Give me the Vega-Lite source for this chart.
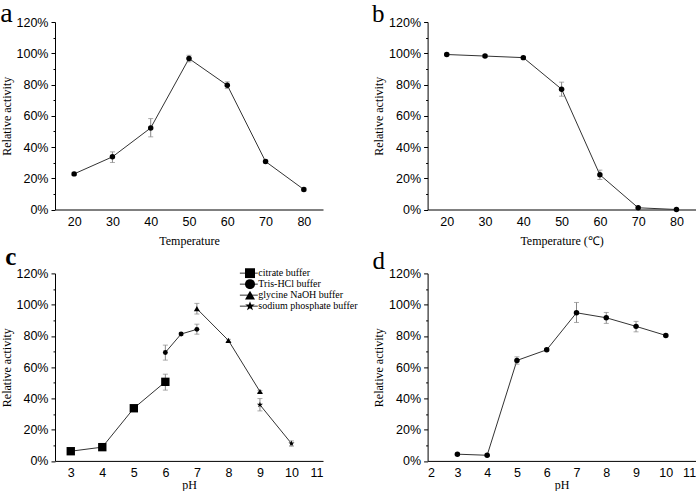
{
  "$schema": "https://vega.github.io/schema/vega-lite/v6.json",
  "padding": 0,
  "background": "white",
  "config": {
    "view": {"stroke": null},
    "axis": {"domainColor": "black", "tickColor": "black", "labelColor": "black", "titleColor": "black", "labelFont": "Liberation Sans", "labelFontSize": 12.5, "titleFont": "Liberation Serif", "titleFontSize": 12, "titleFontWeight": "normal", "grid": false, "domainWidth": 1, "tickWidth": 1, "labelOverlap": false},
    "title": {"font": "Liberation Serif", "fontWeight": "normal", "color": "black", "anchor": "start", "frame": "group", "baseline": "alphabetic", "offset": 0}
  },
  "datasets": {
    "a": [
      {"t": 20, "v": 22.8, "lo": 21.8, "hi": 23.8},
      {"t": 30, "v": 33.7, "lo": 30.1, "hi": 36.9},
      {"t": 40, "v": 52.2, "lo": 46.5, "hi": 58.2},
      {"t": 50, "v": 96.6, "lo": 94.5, "hi": 98.7},
      {"t": 60, "v": 79.5, "lo": 77.4, "hi": 81.7},
      {"t": 70, "v": 30.7, "lo": 29.7, "hi": 31.7},
      {"t": 80, "v": 12.8, "lo": 11.8, "hi": 13.8}
    ],
    "b": [
      {"t": 20, "v": 99.2, "lo": 98.4, "hi": 100},
      {"t": 30, "v": 98.2, "lo": 97.4, "hi": 99},
      {"t": 40, "v": 97.2, "lo": 96.4, "hi": 98},
      {"t": 50, "v": 77, "lo": 72.5, "hi": 81.5},
      {"t": 60, "v": 22.2, "lo": 19.2, "hi": 25.2},
      {"t": 70, "v": 1.1, "lo": 0.5, "hi": 1.7},
      {"t": 80, "v": 0, "lo": 0, "hi": 0.5}
    ],
    "c": [
      {"ph": 3, "v": 6.2, "lo": 5.5, "hi": 6.9, "buf": "citrate buffer"},
      {"ph": 4, "v": 8.8, "lo": 8, "hi": 9.6, "buf": "citrate buffer"},
      {"ph": 5, "v": 33.7, "lo": 33, "hi": 34.4, "buf": "citrate buffer"},
      {"ph": 6, "v": 50.6, "lo": 45.3, "hi": 55.5, "buf": "citrate buffer"},
      {"ph": 6, "v": 69.4, "lo": 64.5, "hi": 74.1, "buf": "Tris-HCl buffer"},
      {"ph": 6.5, "v": 81.2, "lo": 80.5, "hi": 81.9, "buf": "Tris-HCl buffer"},
      {"ph": 7, "v": 84.2, "lo": 81.1, "hi": 87.5, "buf": "Tris-HCl buffer"},
      {"ph": 7, "v": 97.4, "lo": 94, "hi": 100.8, "buf": "glycine NaOH buffer"},
      {"ph": 8, "v": 77.1, "lo": 76.4, "hi": 77.8, "buf": "glycine NaOH buffer"},
      {"ph": 9, "v": 44.4, "lo": 43.7, "hi": 45.1, "buf": "glycine NaOH buffer"},
      {"ph": 9, "v": 35.9, "lo": 32, "hi": 39.9, "buf": "sodium phosphate buffer"},
      {"ph": 10, "v": 11.1, "lo": 9.4, "hi": 12.8, "buf": "sodium phosphate buffer"}
    ],
    "d": [
      {"ph": 3, "v": 4.3, "lo": 3.7, "hi": 4.9},
      {"ph": 4, "v": 3.6, "lo": 3, "hi": 4.2},
      {"ph": 5, "v": 64.3, "lo": 61.9, "hi": 66.6},
      {"ph": 6, "v": 71.1, "lo": 70.3, "hi": 71.9},
      {"ph": 7, "v": 94.8, "lo": 88.6, "hi": 101.4},
      {"ph": 8, "v": 91.6, "lo": 88, "hi": 95},
      {"ph": 9, "v": 86.1, "lo": 82.6, "hi": 89.3},
      {"ph": 10, "v": 80.3, "lo": 79.5, "hi": 81.1}
    ]
  },
  "columns": 2,
  "bounds": "flush",
  "spacing": {"row": 63.4, "column": 104.6},
  "concat": [
    {
      "width": 268, "height": 187.5,
      "title": {"text": "a", "fontSize": 28, "dx": -54.7, "dy": 16},
      "data": {"name": "a"},
      "encoding": {"x": {"field": "t", "type": "quantitative", "scale": {"domain": [15, 85], "nice": false, "zero": false}, "axis": {"values": [20, 30, 40, 50, 60, 70, 80], "tickCount": 7, "title": "Temperature", "titlePadding": 7, "ticks": false, "labelPadding": 6}}},
      "layer": [
        {"mark": {"type": "line", "color": "#333333", "strokeWidth": 1}, "encoding": {"y": {"field": "v", "type": "quantitative", "scale": {"domain": [0, 120], "nice": false}, "axis": {"title": "Relative activity", "values": [0, 10, 20, 30, 40, 50, 60, 70, 80, 90, 100, 110, 120], "tickCount": 13, "labelExpr": "datum.value % 20 === 0 ? datum.value + '%' : ''", "tickSize": {"condition": {"test": "datum.value % 20 === 0", "value": 4}, "value": 2}, "labelPadding": 3, "titlePadding": 3, "labelOverlap": false}}}},
        {"mark": {"type": "rule", "color": "#888888", "strokeWidth": 1}, "encoding": {"y": {"field": "lo", "type": "quantitative", "scale": {"domain": [0, 120], "nice": false}}, "y2": {"field": "hi"}}},
        {"mark": {"type": "tick", "orient": "horizontal", "color": "#888888", "size": 5, "thickness": 1}, "encoding": {"y": {"field": "lo", "type": "quantitative", "scale": {"domain": [0, 120], "nice": false}}}},
        {"mark": {"type": "tick", "orient": "horizontal", "color": "#888888", "size": 5, "thickness": 1}, "encoding": {"y": {"field": "hi", "type": "quantitative", "scale": {"domain": [0, 120], "nice": false}}}},
        {"mark": {"type": "point", "filled": true, "shape": "circle", "color": "black", "size": 30, "opacity": 1}, "encoding": {"y": {"field": "v", "type": "quantitative", "scale": {"domain": [0, 120], "nice": false}}}}
      ]
    },
    {
      "width": 268, "height": 187.5,
      "title": {"text": "b", "fontSize": 25, "dx": -55.6, "dy": 15},
      "data": {"name": "b"},
      "encoding": {"x": {"field": "t", "type": "quantitative", "scale": {"domain": [15, 85], "nice": false, "zero": false}, "axis": {"values": [20, 30, 40, 50, 60, 70, 80], "tickCount": 7, "title": "Temperature (℃)", "titlePadding": 7, "ticks": false, "labelPadding": 6}}},
      "layer": [
        {"mark": {"type": "line", "color": "#333333", "strokeWidth": 1}, "encoding": {"y": {"field": "v", "type": "quantitative", "scale": {"domain": [0, 120], "nice": false}, "axis": {"title": "Relative activity", "values": [0, 10, 20, 30, 40, 50, 60, 70, 80, 90, 100, 110, 120], "tickCount": 13, "labelExpr": "datum.value % 20 === 0 ? datum.value + '%' : ''", "tickSize": {"condition": {"test": "datum.value % 20 === 0", "value": 4}, "value": 2}, "labelPadding": 3, "titlePadding": 3, "labelOverlap": false}}}},
        {"mark": {"type": "rule", "color": "#888888", "strokeWidth": 1}, "encoding": {"y": {"field": "lo", "type": "quantitative", "scale": {"domain": [0, 120], "nice": false}}, "y2": {"field": "hi"}}},
        {"mark": {"type": "tick", "orient": "horizontal", "color": "#888888", "size": 5, "thickness": 1}, "encoding": {"y": {"field": "lo", "type": "quantitative", "scale": {"domain": [0, 120], "nice": false}}}},
        {"mark": {"type": "tick", "orient": "horizontal", "color": "#888888", "size": 5, "thickness": 1}, "encoding": {"y": {"field": "hi", "type": "quantitative", "scale": {"domain": [0, 120], "nice": false}}}},
        {"mark": {"type": "point", "filled": true, "shape": "circle", "color": "black", "size": 30, "opacity": 1}, "encoding": {"y": {"field": "v", "type": "quantitative", "scale": {"domain": [0, 120], "nice": false}}}}
      ]
    },
    {
      "width": 268, "height": 187.5,
      "title": {"text": "c", "fontSize": 25, "fontWeight": "bold", "dx": -49.7, "dy": 7},
      "data": {"name": "c"},
      "encoding": {"x": {"field": "ph", "type": "quantitative", "scale": {"domain": [2.5, 11], "nice": false, "zero": false}, "axis": {"values": [3, 4, 5, 6, 7, 8, 9, 10, 11], "tickCount": 9, "title": "pH", "titlePadding": 0, "ticks": false, "labelPadding": 6}}},
      "layer": [
        {"mark": {"type": "line", "strokeWidth": 1}, "encoding": {
          "color": {"field": "buf", "type": "nominal", "scale": {"range": ["#333333"]},
            "legend": {"title": null, "orient": "none", "legendX": 184.3, "legendY": 246, "padding": 0, "symbolType": "stroke", "symbolSize": 324, "symbolStrokeWidth": 1, "symbolStrokeColor": "black", "clipHeight": 10.3, "rowPadding": 0, "labelFontSize": 10, "labelFont": "Liberation Serif", "labelExpr": "''"}},
          "y": {"field": "v", "type": "quantitative", "scale": {"domain": [0, 120], "nice": false}, "axis": {"title": "Relative activity", "values": [0, 10, 20, 30, 40, 50, 60, 70, 80, 90, 100, 110, 120], "tickCount": 13, "labelExpr": "datum.value % 20 === 0 ? datum.value + '%' : ''", "tickSize": {"condition": {"test": "datum.value % 20 === 0", "value": 4}, "value": 2}, "labelPadding": 3, "titlePadding": 3, "labelOverlap": false}}}},
        {"mark": {"type": "rule", "color": "#888888", "strokeWidth": 1}, "encoding": {"y": {"field": "lo", "type": "quantitative", "scale": {"domain": [0, 120], "nice": false}}, "y2": {"field": "hi"}}},
        {"mark": {"type": "tick", "orient": "horizontal", "color": "#888888", "size": 5, "thickness": 1}, "encoding": {"y": {"field": "lo", "type": "quantitative", "scale": {"domain": [0, 120], "nice": false}}}},
        {"mark": {"type": "tick", "orient": "horizontal", "color": "#888888", "size": 5, "thickness": 1}, "encoding": {"y": {"field": "hi", "type": "quantitative", "scale": {"domain": [0, 120], "nice": false}}}},
        {"transform": [{"filter": "datum.buf === 'citrate buffer'"}], "mark": {"type": "point", "filled": true, "color": "black", "opacity": 1, "size": 70}, "encoding": {
          "y": {"field": "v", "type": "quantitative", "scale": {"domain": [0, 120], "nice": false}},
          "shape": {"field": "buf", "type": "nominal", "scale": {"domain": ["citrate buffer", "Tris-HCl buffer", "glycine NaOH buffer", "sodium phosphate buffer"], "range": ["square", "circle", "triangle-up", "M0,-1L0.235,-0.324L0.951,-0.309L0.38,0.124L0.588,0.809L0,0.4L-0.588,0.809L-0.38,0.124L-0.951,-0.309L-0.235,-0.324Z"]},
            "legend": {"title": null, "orient": "none", "legendX": 190, "legendY": 246, "padding": 0, "labelFont": "Liberation Serif", "labelFontSize": 10, "labelColor": "black", "labelOffset": 3.3, "labelLimit": 300, "symbolSize": 100, "rowPadding": 0, "clipHeight": 10.3, "symbolFillColor": "black", "symbolStrokeColor": "black", "symbolStrokeWidth": 0, "symbolOpacity": 1}}
        }},
        {"transform": [{"filter": "datum.buf === 'Tris-HCl buffer'"}], "mark": {"type": "point", "filled": true, "color": "black", "opacity": 1, "size": 24}, "encoding": {
          "y": {"field": "v", "type": "quantitative", "scale": {"domain": [0, 120], "nice": false}},
          "shape": {"field": "buf", "type": "nominal"}}},
        {"transform": [{"filter": "datum.buf === 'glycine NaOH buffer'"}], "mark": {"type": "point", "filled": true, "color": "black", "opacity": 1, "size": 36}, "encoding": {
          "y": {"field": "v", "type": "quantitative", "scale": {"domain": [0, 120], "nice": false}},
          "shape": {"field": "buf", "type": "nominal"}}},
        {"transform": [{"filter": "datum.buf === 'sodium phosphate buffer'"}], "mark": {"type": "point", "filled": true, "color": "black", "opacity": 1, "size": 40}, "encoding": {
          "y": {"field": "v", "type": "quantitative", "scale": {"domain": [0, 120], "nice": false}},
          "shape": {"field": "buf", "type": "nominal"}}}
      ]
    },
    {
      "width": 268, "height": 187.5,
      "title": {"text": "d", "fontSize": 25, "dx": -55, "dy": 11},
      "data": {"name": "d"},
      "encoding": {"x": {"field": "ph", "type": "quantitative", "scale": {"domain": [2, 11], "nice": false, "zero": false}, "axis": {"values": [2, 3, 4, 5, 6, 7, 8, 9, 10, 11], "tickCount": 10, "title": "pH", "titlePadding": 0, "ticks": false, "labelPadding": 6}}},
      "layer": [
        {"mark": {"type": "line", "color": "#333333", "strokeWidth": 1}, "encoding": {"y": {"field": "v", "type": "quantitative", "scale": {"domain": [0, 120], "nice": false}, "axis": {"title": "Relative activity", "values": [0, 10, 20, 30, 40, 50, 60, 70, 80, 90, 100, 110, 120], "tickCount": 13, "labelExpr": "datum.value % 20 === 0 ? datum.value + '%' : ''", "tickSize": {"condition": {"test": "datum.value % 20 === 0", "value": 4}, "value": 2}, "labelPadding": 3, "titlePadding": 3, "labelOverlap": false}}}},
        {"mark": {"type": "rule", "color": "#888888", "strokeWidth": 1}, "encoding": {"y": {"field": "lo", "type": "quantitative", "scale": {"domain": [0, 120], "nice": false}}, "y2": {"field": "hi"}}},
        {"mark": {"type": "tick", "orient": "horizontal", "color": "#888888", "size": 5, "thickness": 1}, "encoding": {"y": {"field": "lo", "type": "quantitative", "scale": {"domain": [0, 120], "nice": false}}}},
        {"mark": {"type": "tick", "orient": "horizontal", "color": "#888888", "size": 5, "thickness": 1}, "encoding": {"y": {"field": "hi", "type": "quantitative", "scale": {"domain": [0, 120], "nice": false}}}},
        {"mark": {"type": "point", "filled": true, "shape": "circle", "color": "black", "size": 30, "opacity": 1}, "encoding": {"y": {"field": "v", "type": "quantitative", "scale": {"domain": [0, 120], "nice": false}}}}
      ]
    }
  ]
}
